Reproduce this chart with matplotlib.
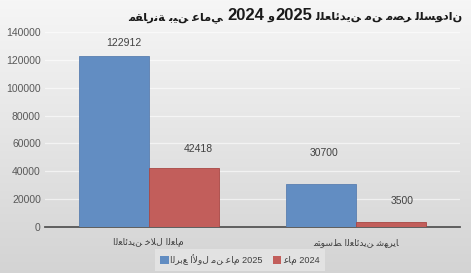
import re
import numpy as np
import matplotlib
matplotlib.use("Agg")
import matplotlib.pyplot as plt
from matplotlib.patches import Patch

# ---------------- data ----------------
title_text = "مقارنة بين عامي 2024 و2025 للعائدين من مصر للسودان"
categories = ["العائدين خلال العام", "متوسط العائدين شهريا"]
series_names = ["الربع الأول من عام 2025", "عام 2024"]
q1_2025 = [122912, 30700]
year_2024 = [42418, 3500]
y_ticks = [0, 20000, 40000, 60000, 80000, 100000, 120000, 140000]

# ---------------- Arabic contextual shaping (glyphs kept in logical order) ----------------
FORMS = {
    'ا': ('\uFE8D', '\uFE8E', None, None),
    'أ': ('\uFE83', '\uFE84', None, None),
    'ب': ('\uFE8F', '\uFE90', '\uFE91', '\uFE92'),
    'ة': ('\uFE93', '\uFE94', None, None),
    'ت': ('\uFE95', '\uFE96', '\uFE97', '\uFE98'),
    'خ': ('\uFEA5', '\uFEA6', '\uFEA7', '\uFEA8'),
    'د': ('\uFEA9', '\uFEAA', None, None),
    'ر': ('\uFEAD', '\uFEAE', None, None),
    'س': ('\uFEB1', '\uFEB2', '\uFEB3', '\uFEB4'),
    'ش': ('\uFEB5', '\uFEB6', '\uFEB7', '\uFEB8'),
    'ص': ('\uFEB9', '\uFEBA', '\uFEBB', '\uFEBC'),
    'ط': ('\uFEC1', '\uFEC2', '\uFEC3', '\uFEC4'),
    'ع': ('\uFEC9', '\uFECA', '\uFECB', '\uFECC'),
    'ق': ('\uFED5', '\uFED6', '\uFED7', '\uFED8'),
    'ل': ('\uFEDD', '\uFEDE', '\uFEDF', '\uFEE0'),
    'م': ('\uFEE1', '\uFEE2', '\uFEE3', '\uFEE4'),
    'ن': ('\uFEE5', '\uFEE6', '\uFEE7', '\uFEE8'),
    'ه': ('\uFEE9', '\uFEEA', '\uFEEB', '\uFEEC'),
    'و': ('\uFEED', '\uFEEE', None, None),
    'ي': ('\uFEF1', '\uFEF2', '\uFEF3', '\uFEF4'),
    'ئ': ('\uFE89', '\uFE8A', '\uFE8B', '\uFE8C'),
}
LAM_ALEF = {'ا': ('\uFEFB', '\uFEFC'), 'أ': ('\uFEF7', '\uFEF8')}


def shape(s):
    out = []
    i = 0
    n = len(s)
    prev_dual = False
    while i < n:
        c = s[i]
        if c not in FORMS:
            out.append(c)
            prev_dual = False
            i += 1
            continue
        if c == 'ل' and i + 1 < n and s[i + 1] in LAM_ALEF:
            iso, fin = LAM_ALEF[s[i + 1]]
            out.append(fin if prev_dual else iso)
            prev_dual = False
            i += 2
            continue
        iso, fin, ini, med = FORMS[c]
        dual = ini is not None
        nxt = dual and i + 1 < n and s[i + 1] in FORMS
        if prev_dual and nxt:
            g = med
        elif prev_dual:
            g = fin
        elif nxt:
            g = ini
        else:
            g = iso
        out.append(g)
        prev_dual = dual
        i += 1
    return ''.join(out)


FAM = ['Liberation Sans', 'DejaVu Sans']
plt.rcParams['font.family'] = FAM

W, H = 471, 273
fig = plt.figure(figsize=(W / 100, H / 100), dpi=100)

# gradient background
bg = fig.add_axes([0, 0, 1, 1], zorder=-10)
grad = np.linspace(0, 1, 256).reshape(-1, 1)
top = np.array([0.965, 0.965, 0.965])
bot = np.array([0.83, 0.83, 0.83])
img = top[None, None, :] * (1 - grad[:, :, None]) + bot[None, None, :] * grad[:, :, None]
bg.imshow(img, aspect='auto', extent=[0, 1, 0, 1], origin='upper')
bg.set_axis_off()

ax = fig.add_axes([45 / W, 1 - 227 / H, 415 / W, 195 / H])
ax.patch.set_alpha(0)

x = np.arange(len(categories))
bw = 0.337
blue = '#628dc2'
red = '#c25e5b'
b1 = ax.bar(x - bw / 2, q1_2025, bw, color=blue, edgecolor='#5a7fb0', linewidth=0.6, zorder=3)
b2 = ax.bar(x + bw / 2, year_2024, bw, color=red, edgecolor='#a94744', linewidth=0.6, zorder=3)

ax.set_xlim(-0.5, 1.5)
ax.set_ylim(0, 140000)
ax.set_yticks(y_ticks)
ax.set_yticklabels([str(v) for v in y_ticks])
ax.grid(axis='y', color='white', linewidth=0.9, alpha=0.6, zorder=0)
ax.set_xticks(x)
ax.set_xticklabels([shape(c) for c in categories], fontsize=6.6, color='#404040',
                   family=['DejaVu Sans'])
ax.tick_params(axis='both', length=0)
ax.tick_params(axis='y', pad=3, labelsize=7.5, labelcolor='#595959')
ax.tick_params(axis='x', pad=8)
for s in ['top', 'right', 'left']:
    ax.spines[s].set_visible(False)
ax.spines['bottom'].set_color('#555555')
ax.spines['bottom'].set_linewidth(1.3)

# data labels (pixel offsets from bar top)
label_offsets = [[(10, 13), (3, 31)], [(15, 19), (11, 21)]]
for si, (bars, vals) in enumerate([(b1, q1_2025), (b2, year_2024)]):
    for bi, (bar, v) in enumerate(zip(bars, vals)):
        dx, dy = label_offsets[si][bi]
        ax.annotate(str(v), (bar.get_x() + bar.get_width() / 2, v),
                    xytext=(dx, dy), textcoords='offset pixels',
                    ha='center', va='center', fontsize=7.5, color='#404040')

# title: Arabic runs in DejaVu Sans, digit runs in bold Liberation Sans; laid out left to right
shaped_title = shape(title_text)
runs = [r for r in re.split(r'(\d+)', shaped_title) if r]
renderer = fig.canvas.get_renderer()
texts = []
for r in runs:
    if r.isdigit():
        t = fig.text(0, 0, r, fontsize=12, fontweight='bold', color='#1a1a1a',
                     family=['Liberation Sans'], va='baseline', ha='left')
    else:
        t = fig.text(0, 0, r, fontsize=8.2, fontweight='bold', color='#1a1a1a',
                     family=['DejaVu Sans'], va='baseline', ha='left')
    texts.append(t)
widths = [t.get_window_extent(renderer).width for t in texts]
right_px = 462
xpos = right_px - sum(widths)
base_y = 1 - 20 / H
for t, w in zip(texts, widths):
    t.set_position((xpos / W, base_y))
    xpos += w

handles = [Patch(facecolor=blue, edgecolor='none'), Patch(facecolor=red, edgecolor='none')]
leg = fig.legend(handles, [shape(n) for n in series_names], loc='center',
                 bbox_to_anchor=(240 / W, 1 - 260 / H), ncol=2, frameon=True,
                 fontsize=6.6, handlelength=0.9, handleheight=0.9, handletextpad=0.2,
                 columnspacing=1.1, borderpad=0.6, fancybox=False)
leg.get_frame().set_facecolor('#e6e6e6')
leg.get_frame().set_edgecolor('none')
for t in leg.get_texts():
    t.set_color('#404040')

fig.savefig('out.png', dpi=100)
